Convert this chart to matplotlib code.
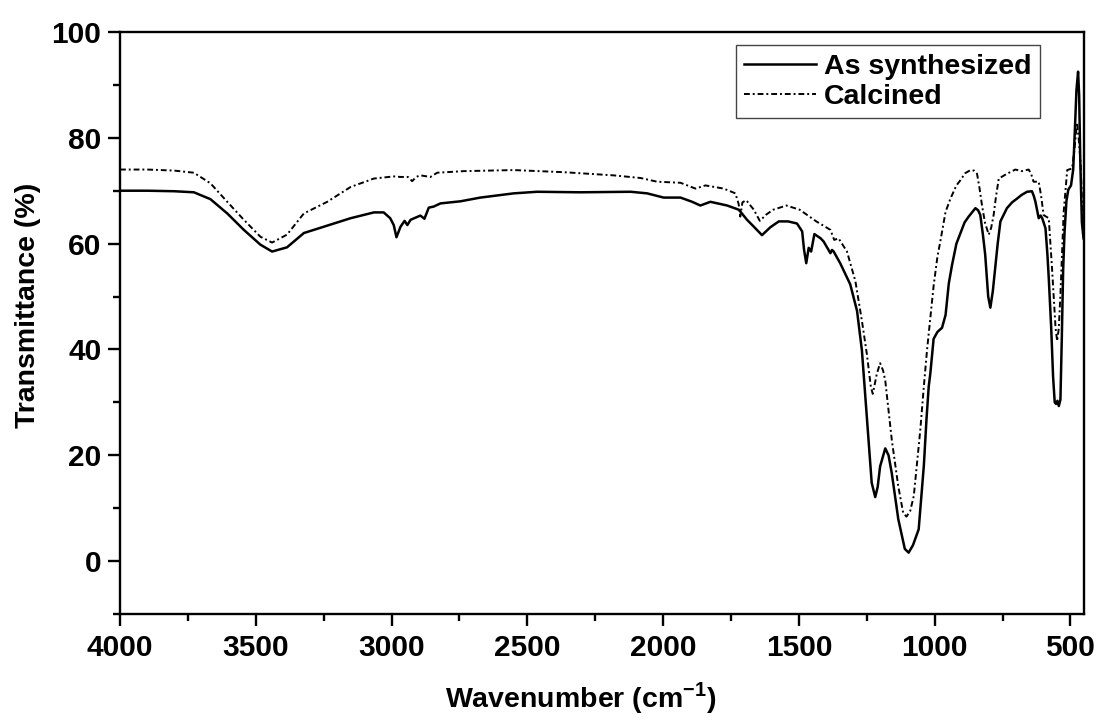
import matplotlib.pyplot as plt

# Data (wavenumber in cm-1, transmittance in %)
wn_synth = [4000, 3900, 3800, 3728, 3667, 3605, 3544, 3483, 3440, 3385, 3323, 3237,
            3151, 3065, 3029, 3005, 2992, 2982, 2967, 2952, 2942, 2930, 2894, 2879,
            2863, 2845, 2820, 2746, 2673, 2550, 2464, 2304, 2120, 2059, 1998, 1936,
            1893, 1863, 1826, 1764, 1721, 1691, 1666, 1636, 1605, 1574, 1540, 1507,
            1488, 1481, 1473, 1464, 1455, 1443, 1420, 1409, 1384, 1378, 1372, 1348,
            1311, 1286, 1268, 1250, 1232, 1219, 1210, 1201, 1182, 1170, 1158, 1134,
            1110, 1096, 1080, 1059, 1040, 1030, 1022, 1016, 1004, 990, 973, 960,
            948, 936, 920, 905, 890, 875, 850, 840, 832, 822, 814, 803, 795, 786,
            777, 768, 758, 734, 715, 697, 680, 660, 642, 635, 629, 617, 610, 604,
            592, 585, 580, 571, 564, 558, 553, 548, 543, 537, 532, 527, 522, 515,
            508, 498, 490, 485, 478, 472, 468, 464, 458, 452]
t_synth = [70.0, 70.0, 69.9, 69.7, 68.4, 65.7, 62.6, 59.8, 58.5, 59.3, 62.0, 63.4,
           64.8, 65.9, 65.9, 64.8, 63.5, 61.2, 63.2, 64.3, 63.5, 64.5, 65.3, 64.7,
           66.8, 67.0, 67.6, 68.0, 68.7, 69.5, 69.8, 69.7, 69.8, 69.5, 68.7, 68.7,
           67.9, 67.2, 67.9, 67.2, 66.4, 64.5, 63.2, 61.6, 63.1, 64.2, 64.2, 63.8,
           62.3, 58.8, 56.3, 59.2, 58.5, 61.8, 61.0, 60.4, 58.2, 58.8, 58.5, 56.3,
           52.3, 47.3, 39.8, 27.3, 14.8, 12.1, 14.0, 17.9, 21.3, 20.0, 16.6, 7.9,
           2.3, 1.6, 3.0, 6.0, 18.0, 27.0, 33.0, 35.5, 42.0, 43.3, 44.1, 46.5,
           52.5, 56.0, 60.0, 62.0, 64.0, 65.1, 66.7, 66.3, 65.4, 61.5, 57.9, 50.0,
           47.9, 51.0, 55.4, 60.0, 64.2, 66.7, 67.8, 68.5, 69.2, 69.8, 69.9, 69.0,
           67.9, 64.8, 65.3, 64.8, 62.9, 58.0, 53.5, 44.1, 34.8, 30.0, 29.7, 30.3,
           29.3, 30.5, 42.0, 55.0, 62.0, 68.0, 70.2, 71.0, 74.0, 80.0, 89.0, 92.5,
           88.0, 76.0, 64.0, 61.0]

wn_calc = [4000, 3900, 3800, 3728, 3667, 3605, 3544, 3483, 3440, 3385, 3323, 3237,
           3151, 3065, 2992, 2967, 2940, 2924, 2910, 2894, 2857, 2832, 2734, 2550,
           2366, 2182, 2083, 2022, 1936, 1881, 1844, 1777, 1734, 1722, 1716, 1708,
           1694, 1666, 1644, 1620, 1595, 1546, 1497, 1436, 1384, 1370, 1354, 1323,
           1292, 1268, 1250, 1235, 1228, 1213, 1201, 1190, 1182, 1158, 1134, 1116,
           1104, 1090, 1077, 1053, 1040, 1028, 1016, 1004, 990, 979, 960, 942, 920,
           905, 888, 868, 855, 844, 835, 826, 815, 801, 792, 783, 774, 764, 734,
           703, 680, 654, 645, 636, 617, 608, 599, 580, 568, 555, 549, 543, 537,
           525, 512, 494, 485, 476, 470, 463, 453]
t_calc = [74.0, 74.0, 73.8, 73.4, 71.4, 67.9, 64.5, 61.3, 60.2, 61.7, 65.7, 67.9,
          70.7, 72.3, 72.7, 72.6, 72.6, 71.8, 72.6, 72.9, 72.6, 73.4, 73.7, 73.9,
          73.5, 72.9, 72.4, 71.7, 71.5, 70.4, 71.0, 70.4, 69.5, 67.5, 65.1, 67.8,
          68.2, 66.4, 64.3, 65.5, 66.4, 67.2, 66.4, 64.2, 62.6, 60.7, 61.0, 58.5,
          52.9, 45.4, 39.2, 32.9, 31.6, 35.4, 37.4, 36.0, 34.1, 22.9, 14.1, 9.1,
          8.4, 9.5, 12.3, 24.8, 33.0, 40.0, 46.0, 52.0, 57.5, 60.5, 66.0, 68.5, 71.0,
          72.0, 73.3, 73.9, 73.8, 73.2, 70.5, 67.3, 64.0, 61.7, 63.0, 65.4, 69.0,
          72.3, 73.2, 74.0, 73.7, 74.0, 73.2, 71.7, 71.7, 69.0, 65.4, 64.8, 55.4,
          44.1, 41.6, 44.0, 50.4, 66.0, 73.9, 74.2, 78.0, 82.9, 80.0, 75.4, 61.7]

plt.rcParams["font.family"] = ["Liberation Sans", "DejaVu Sans"]
plt.rcParams["font.weight"] = "bold"
plt.rcParams["mathtext.fontset"] = "custom"
plt.rcParams["mathtext.rm"] = "Liberation Sans:bold"
plt.rcParams["mathtext.bf"] = "Liberation Sans:bold"

fig = plt.figure(figsize=(10.99, 7.25), dpi=100)
ax = fig.add_axes([0.1092, 0.1531, 0.8772, 0.8028])

# Plot both spectra
ax.plot(wn_synth, t_synth, color="black", linewidth=1.8, label="As synthesized")
ax.plot(wn_calc, t_calc, color="black", linewidth=1.4,
        linestyle=(0, (3, 1.5, 1, 1.5)), label="Calcined")

# Axes limits and ticks
ax.set_xlim(4000, 450)
ax.set_ylim(-10, 100)
ax.set_xticks([4000, 3500, 3000, 2500, 2000, 1500, 1000, 500])
ax.set_xticks(range(3750, 449, -500), minor=True)
ax.set_yticks([0, 20, 40, 60, 80, 100])
ax.set_yticks([-10, 10, 30, 50, 70, 90], minor=True)

for side in ["left", "bottom", "right", "top"]:
    ax.spines[side].set_linewidth(1.7)
ax.tick_params(axis="both", which="major", direction="out", length=8.5, width=1.7,
               labelsize=21.5)
ax.tick_params(axis="both", which="minor", direction="out", length=5, width=1.7)
ax.tick_params(axis="x", which="major", pad=6)
ax.tick_params(axis="y", which="major", pad=5)

# Labels
ax.set_xlabel("Wavenumber (cm$^{-1}$)", fontsize=20.5, fontweight="bold")
ax.set_ylabel("Transmittance (%)", fontsize=20.5, fontweight="bold")
ax.xaxis.set_label_coords(0.478, -0.113)
ax.yaxis.set_label_coords(-0.082, 0.531)

# Legend
leg = ax.legend(loc="upper right", bbox_to_anchor=(0.9544, 0.9776), fontsize=20.5,
                frameon=True, fancybox=False, framealpha=1, handlelength=2.5,
                handletextpad=0.3, borderpad=0.3, labelspacing=0.15,
                borderaxespad=0)
leg.get_frame().set_edgecolor("#444444")
leg.get_frame().set_linewidth(1.0)

fig.savefig("out.png", dpi=100)
